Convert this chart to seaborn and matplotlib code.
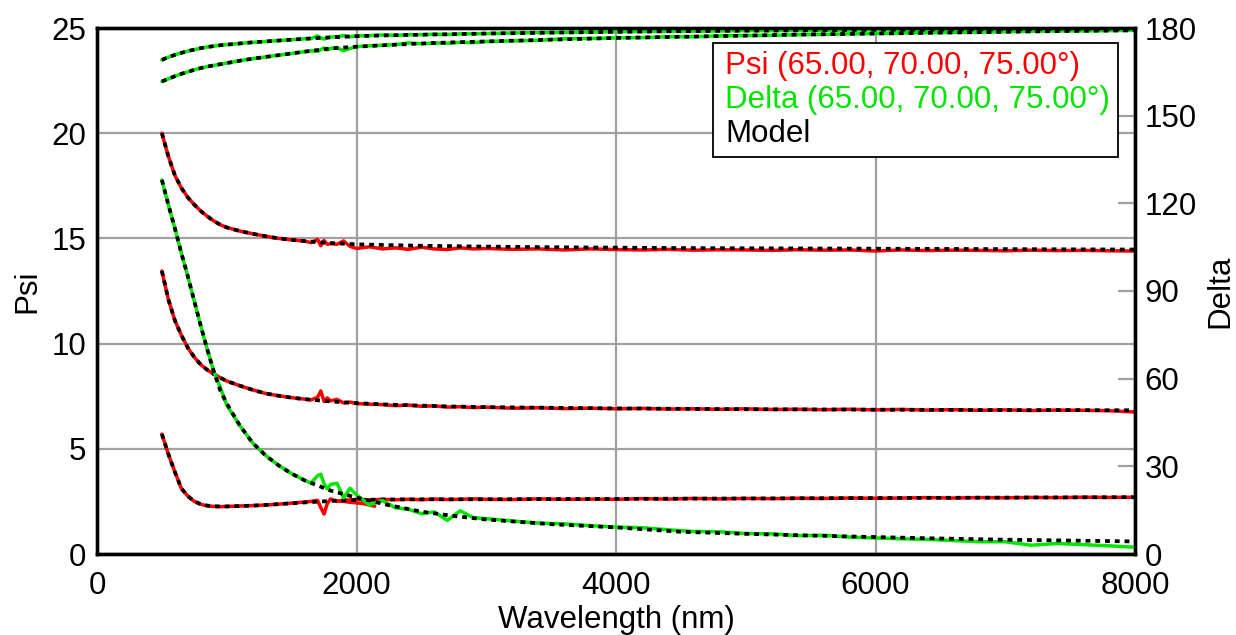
import matplotlib
matplotlib.use("Agg")
import matplotlib.pyplot as plt
from matplotlib.lines import Line2D
import seaborn as sns

# ---------------- data ----------------
wl = [500, 550, 600, 650, 700, 750, 800, 850, 900, 950, 1000, 1100, 1200, 1300, 1400, 1500, 1600,
      1650, 1700, 1725, 1750, 1775, 1800, 1850, 1900, 1950, 2000,
      2100, 2200, 2300, 2400, 2500, 2600, 2700, 2800, 2900, 3000,
      3200, 3400, 3600, 3800, 4000, 4200, 4400, 4600, 4800, 5000, 5200, 5400, 5600, 5800,
      6000, 6200, 6400, 6600, 6800, 7000, 7200, 7400, 7600, 7800, 8000]

psi_a = [20.0, 18.9, 18.0, 17.4, 16.95, 16.6, 16.3, 16.05, 15.83, 15.65, 15.52, 15.35, 15.22, 15.1, 15.0, 14.93, 14.87,
         14.8, 14.95, 14.65, 14.9, 14.72, 14.75, 14.72, 14.88, 14.62, 14.52,
         14.6, 14.5, 14.55, 14.48, 14.58, 14.5, 14.47, 14.55, 14.5, 14.52,
         14.48, 14.5, 14.45, 14.5, 14.47, 14.45, 14.48, 14.44, 14.46, 14.45, 14.43, 14.46, 14.44, 14.45,
         14.4, 14.45, 14.42, 14.44, 14.43, 14.41, 14.44, 14.42, 14.43, 14.41, 14.4]
psi_b = [13.45, 12.1, 11.1, 10.4, 9.8, 9.35, 9.0, 8.75, 8.55, 8.38, 8.22, 8.0, 7.8, 7.63, 7.52, 7.43, 7.36,
         7.32, 7.45, 7.75, 7.25, 7.42, 7.28, 7.35, 7.18, 7.22, 7.15,
         7.12, 7.1, 7.05, 7.08, 7.02, 7.04, 6.98, 7.0, 6.96, 6.98,
         6.93, 6.95, 6.91, 6.93, 6.9, 6.92, 6.89, 6.9, 6.88, 6.9, 6.87, 6.88, 6.86, 6.88,
         6.85, 6.87, 6.84, 6.86, 6.83, 6.85, 6.82, 6.84, 6.83, 6.81, 6.75]
psi_c = [5.7, 4.75, 3.9, 3.12, 2.75, 2.5, 2.36, 2.29, 2.26, 2.25, 2.26, 2.28, 2.3, 2.33, 2.37, 2.42, 2.47,
         2.5, 2.55, 2.2, 1.9, 2.4, 2.62, 2.5, 2.55, 2.57, 2.6,
         2.57, 2.6, 2.58, 2.6, 2.58, 2.61, 2.59, 2.6, 2.62, 2.6,
         2.59, 2.62, 2.6, 2.61, 2.6, 2.63, 2.61, 2.64, 2.62, 2.64, 2.63, 2.65, 2.64, 2.66,
         2.65, 2.66, 2.68, 2.66, 2.68, 2.67, 2.69, 2.68, 2.7, 2.69, 2.7]

# overlapping short-wavelength segment of the lowest Psi curve
wl_ext = [1850, 1900, 1950, 2000, 2050, 2100, 2140]
psi_c_ext = [2.52, 2.5, 2.46, 2.43, 2.4, 2.33, 2.27]

delta_a = [169.1, 170.0, 170.8, 171.5, 172.1, 172.6, 173.1, 173.5, 173.8, 174.1, 174.3, 174.7, 175.1, 175.4, 175.7, 176.0, 176.3,
           176.4, 177.3, 176.6, 176.2, 176.6, 176.9, 177.0, 177.4, 177.0, 177.3,
           177.4, 177.6, 177.5, 177.7, 177.7, 177.9, 177.8, 178.0, 178.0, 178.1,
           178.3, 178.4, 178.5, 178.6, 178.7, 178.8, 178.9, 178.9, 179.0, 179.1, 179.1, 179.2, 179.2, 179.3,
           179.4, 179.4, 179.5, 179.5, 179.5, 179.6, 179.6, 179.6, 179.7, 179.7, 179.7]
delta_b = [161.7, 162.6, 163.5, 164.3, 165.0, 165.7, 166.3, 166.8, 167.2, 167.6, 168.0, 168.8, 169.5, 170.1, 170.7, 171.3, 171.9,
           172.2, 172.0, 172.6, 173.2, 172.5, 173.0, 173.3, 172.2, 173.0, 173.6,
           173.9, 174.1, 174.3, 174.9, 174.6, 174.9, 174.8, 175.1, 175.0, 175.4,
           175.6, 175.8, 176.3, 176.4, 176.6, 176.7, 177.0, 177.0, 177.3, 177.4, 177.5, 177.7, 177.8, 178.0,
           178.1, 178.3, 178.4, 178.5, 178.6, 178.7, 178.9, 179.0, 179.0, 179.1, 179.2]
delta_c = [128, 119.5, 111.5, 103, 95, 86.5, 78, 70, 62.5, 57, 51, 44, 38, 33.7, 30.3, 27.5, 25.2,
           24.3, 26.8, 27.3, 24.0, 22.3, 23.8, 24.2, 19.2, 22.5, 20.2,
           16.8, 18.3, 15.8, 15.3, 13.8, 14.4, 11.5, 14.8, 12.4, 12.1,
           11.3, 10.6, 10.3, 9.7, 9.2, 9.0, 8.3, 7.7, 7.6, 7.0, 6.9, 6.3, 6.4, 5.8,
           5.5, 5.2, 5.0, 4.6, 4.2, 4.2, 3.0, 3.6, 3.2, 2.8, 2.3]

# model curves
wl_model = [500, 550, 600, 650, 700, 750, 800, 850, 900, 950, 1000, 1100, 1200, 1300, 1400, 1500, 1600,
            1800, 2000, 2250, 2500, 2750, 3000, 3500, 4000, 4500, 5000, 5500, 6000, 6500, 7000, 7500, 8000]
model_psi_a = [20.0, 18.9, 18.0, 17.4, 16.95, 16.6, 16.3, 16.05, 15.83, 15.65, 15.52, 15.35, 15.22, 15.1, 15.0, 14.93, 14.87,
               14.78, 14.72, 14.68, 14.65, 14.63, 14.61, 14.58, 14.56, 14.54, 14.53, 14.52, 14.51, 14.5, 14.49, 14.48, 14.47]
model_psi_b = [13.45, 12.1, 11.1, 10.4, 9.8, 9.35, 9.0, 8.75, 8.55, 8.38, 8.22, 8.0, 7.8, 7.63, 7.52, 7.43, 7.36,
               7.25, 7.17, 7.1, 7.05, 7.01, 6.98, 6.95, 6.92, 6.9, 6.88, 6.87, 6.86, 6.85, 6.84, 6.84, 6.83]
model_psi_c = [5.7, 4.75, 3.9, 3.12, 2.75, 2.5, 2.37, 2.3, 2.27, 2.26, 2.26, 2.28, 2.3, 2.33, 2.37, 2.41, 2.45,
               2.52, 2.57, 2.59, 2.6, 2.6, 2.6, 2.61, 2.62, 2.63, 2.64, 2.65, 2.66, 2.67, 2.68, 2.69, 2.7]
model_delta_a = [169.1, 170.0, 170.8, 171.5, 172.1, 172.6, 173.1, 173.5, 173.8, 174.1, 174.3, 174.7, 175.1, 175.4, 175.7, 176.0, 176.3,
                 176.8, 177.2, 177.5, 177.7, 177.9, 178.1, 178.4, 178.7, 178.9, 179.1, 179.2, 179.4, 179.5, 179.6, 179.65, 179.7]
model_delta_b = [161.7, 162.6, 163.5, 164.3, 165.0, 165.7, 166.3, 166.8, 167.2, 167.6, 168.0, 168.8, 169.5, 170.1, 170.7, 171.3, 171.9,
                 173.0, 173.6, 174.2, 174.7, 175.1, 175.4, 176.0, 176.6, 177.0, 177.4, 177.8, 178.1, 178.4, 178.7, 179.0, 179.2]
model_delta_c = [128, 119.5, 111.5, 103, 95, 86.5, 78, 70, 62.5, 56, 51.5, 44, 38, 33.7, 30.3, 27.5, 25.2,
                 21.7, 19.3, 16.7, 14.5, 13.0, 11.8, 10.2, 9.1, 7.6, 6.9, 6.3, 5.8, 5.3, 4.9, 4.6, 4.3]

x_ticks = [0, 2000, 4000, 6000, 8000]
psi_ticks = [0, 5, 10, 15, 20, 25]
delta_ticks = [0, 30, 60, 90, 120, 150, 180]
legend_labels = ["Psi (65.00, 70.00, 75.00°)", "Delta (65.00, 70.00, 75.00°)", "Model"]

# ---------------- style ----------------
sns.set_theme(style="white")
plt.rcParams["font.family"] = ["Liberation Sans", "DejaVu Sans"]

RED = "#ff0000"
GREEN = "#00e600"
GRID = "#a0a0a0"
FS = 22.5

fig = plt.figure(figsize=(12.36, 6.35), dpi=100)
ax = fig.add_axes([97 / 1236, 1 - 554 / 635, 1038 / 1236, 526 / 635])
ax2 = ax.twinx()

data_kw = dict(estimator=None, sort=False, legend=False, linewidth=2.5)
model_kw = dict(estimator=None, sort=False, legend=False, linewidth=2.7, color="black")

for ys in (psi_a, psi_b, psi_c):
    sns.lineplot(x=wl, y=ys, ax=ax, color=RED, **data_kw)
sns.lineplot(x=wl_ext, y=psi_c_ext, ax=ax, color=RED, **data_kw)
for ys in (model_psi_a, model_psi_b, model_psi_c):
    sns.lineplot(x=wl_model, y=ys, ax=ax, **model_kw)
for ln in ax.get_lines()[4:]:
    ln.set_dashes((1.3, 1.3))

for ys in (delta_a, delta_b, delta_c):
    sns.lineplot(x=wl, y=ys, ax=ax2, color=GREEN, **data_kw)
for ys in (model_delta_a, model_delta_b, model_delta_c):
    sns.lineplot(x=wl_model, y=ys, ax=ax2, **model_kw)
for ln in ax2.get_lines()[3:]:
    ln.set_dashes((1.3, 1.3))

ax.set_xlim(0, 8000)
ax.set_ylim(0, 25)
ax2.set_ylim(0, 180)
ax.set_xticks(x_ticks)
ax.set_yticks(psi_ticks)
ax2.set_yticks(delta_ticks)

ax.grid(True, color=GRID, linewidth=1.6)
ax2.grid(False)
ax.set_axisbelow(True)

ax.tick_params(axis="both", which="both", length=0, labelsize=FS, colors="black")
ax.tick_params(axis="y", pad=8)
ax.tick_params(axis="x", pad=12)
ax2.tick_params(axis="y", direction="in", length=12, width=1.6, color=GRID,
                labelcolor="black", labelsize=FS, pad=7)

for a in (ax, ax2):
    for s in a.spines.values():
        s.set_color("black")
        s.set_linewidth(2.4)
        s.set_visible(True)

ax.set_xlabel("Wavelength (nm)", fontsize=FS, color="black", labelpad=3)
ax.set_ylabel("Psi", fontsize=FS, color="black", labelpad=6)
ax2.set_ylabel("Delta", fontsize=FS, color="black", labelpad=6)

handles = [Line2D([], [], color="none") for _ in legend_labels]
leg = ax2.legend(handles, legend_labels, loc="upper right", bbox_to_anchor=(0.9836, 0.9715),
                 borderaxespad=0, frameon=True, fancybox=False, framealpha=1,
                 edgecolor="black", handlelength=0, handletextpad=0.15,
                 labelspacing=0.13, borderpad=0.25, fontsize=FS)
leg.get_frame().set_linewidth(1.3)
for t, c in zip(leg.get_texts(), [RED, GREEN, "black"]):
    t.set_color(c)

fig.savefig("out.png", dpi=100)
